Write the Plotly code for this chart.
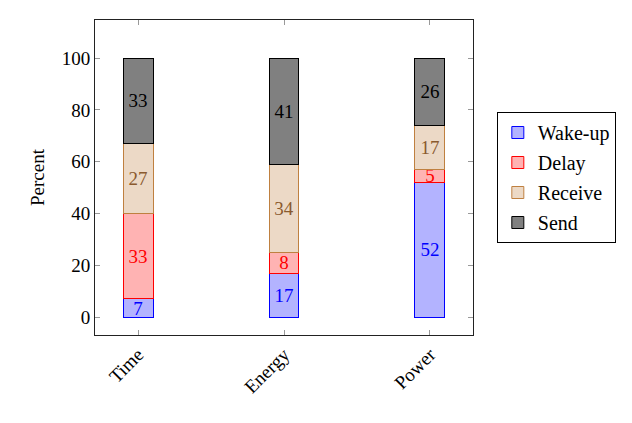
import plotly.graph_objects as go

categories = ["Time", "Energy", "Power"]
series_names = ["Wake-up", "Delay", "Receive", "Send"]
wakeup = [7, 17, 52]
delay = [33, 8, 5]
receive = [27, 34, 17]
send = [33, 41, 26]

fills = ["#B3B3FF", "#FFB3B3", "#ECD9C6", "#808080"]
borders = ["#0000FF", "#FF0000", "#BF8040", "#000000"]
textcols = ["#0000FF", "#FF0000", "#8A5A2E", "#000000"]

FONT = "Liberation Serif"
FS = 19
fig = go.Figure()
for name, vals, fc, bc, tc in zip(series_names, [wakeup, delay, receive, send], fills, borders, textcols):
    fig.add_trace(go.Bar(
        x=list(range(len(categories))), y=vals, name=name, legendgroup=name,
        marker=dict(color=fc, line=dict(color=bc, width=1)),
        text=[str(v) for v in vals], textposition="inside", insidetextanchor="middle",
        textangle=0, textfont=dict(color=tc, size=FS, family=FONT),
        width=0.205,
    ))

fig.update_layout(
    barmode="stack",
    width=632, height=423,
    margin=dict(l=95, r=159, t=20, b=88),
    paper_bgcolor="white", plot_bgcolor="white",
    font=dict(family=FONT, size=FS, color="black"),
    uniformtext=dict(mode="show", minsize=FS),
    showlegend=True,
    legend=dict(x=1.063, xanchor="left", y=0.5, yanchor="middle",
                bordercolor="black", borderwidth=1, bgcolor="white",
                font=dict(size=20, family=FONT), traceorder="grouped",
                itemwidth=30, tracegroupgap=1),
)
fig.update_xaxes(
    range=[-0.295, 2.295], tickmode="array", tickvals=list(range(len(categories))),
    ticktext=categories, tickangle=-45, ticks="inside", ticklen=5, tickcolor="#999",
    showline=True, linecolor="#222", linewidth=1, mirror="allticks", showgrid=False,
    zeroline=False, tickfont=dict(size=FS),
)
fig.update_yaxes(
    range=[-6.9, 114.7], tickvals=[0, 20, 40, 60, 80, 100], ticks="inside", ticklen=5,
    tickcolor="#999", showline=True, linecolor="#222", linewidth=1, mirror="allticks",
    showgrid=False, zeroline=False, tickfont=dict(size=FS),
    title=dict(text="Percent", font=dict(size=FS), standoff=12),
)
fig.write_html("out.html")
